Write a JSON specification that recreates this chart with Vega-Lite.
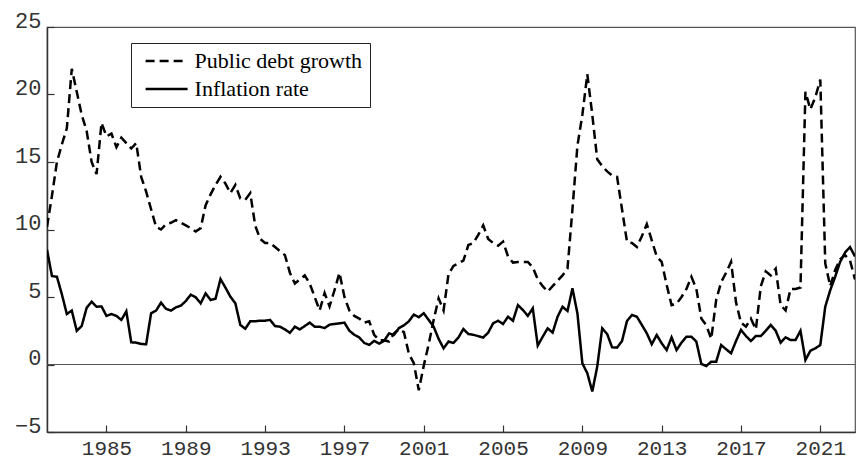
{
  "$schema": "https://vega.github.io/schema/vega-lite/v6.json",
  "width": 808,
  "height": 405,
  "autosize": {"type": "none"},
  "padding": {"left": 47, "top": 27, "right": 1, "bottom": 27},
  "background": "white",
  "config": {
    "view": {"stroke": "#555", "strokeWidth": 1.2},
    "axis": {
      "grid": false,
      "domainColor": "#333",
      "domainWidth": 1.5,
      "tickColor": "#333",
      "tickWidth": 1.2,
      "tickSize": -7,
      "labelFont": "Liberation Mono",
      "labelFontSize": 22,
      "labelColor": "#333",
      "title": null
    },
    "legend": {
      "labelFont": "Liberation Serif",
      "labelFontSize": 22,
      "labelColor": "black",
      "labelLimit": 300
    }
  },
  "data": {
    "values": [
      {"t": 1982.00, "Public debt growth": 10.2, "Inflation rate": 8.5},
      {"t": 1982.25, "Public debt growth": 12.5, "Inflation rate": 6.55},
      {"t": 1982.50, "Public debt growth": 15.0, "Inflation rate": 6.5},
      {"t": 1982.75, "Public debt growth": 16.3, "Inflation rate": 5.2},
      {"t": 1983.00, "Public debt growth": 17.5, "Inflation rate": 3.74},
      {"t": 1983.25, "Public debt growth": 21.9, "Inflation rate": 3.99},
      {"t": 1983.50, "Public debt growth": 20.2, "Inflation rate": 2.5},
      {"t": 1983.75, "Public debt growth": 18.5, "Inflation rate": 2.85},
      {"t": 1984.00, "Public debt growth": 17.3, "Inflation rate": 4.2},
      {"t": 1984.25, "Public debt growth": 15.0, "Inflation rate": 4.65},
      {"t": 1984.50, "Public debt growth": 14.1, "Inflation rate": 4.28},
      {"t": 1984.75, "Public debt growth": 17.9, "Inflation rate": 4.3},
      {"t": 1985.00, "Public debt growth": 16.9, "Inflation rate": 3.6},
      {"t": 1985.25, "Public debt growth": 17.1, "Inflation rate": 3.74},
      {"t": 1985.50, "Public debt growth": 16.1, "Inflation rate": 3.6},
      {"t": 1985.75, "Public debt growth": 16.8, "Inflation rate": 3.3},
      {"t": 1986.00, "Public debt growth": 16.4, "Inflation rate": 3.94},
      {"t": 1986.25, "Public debt growth": 16.0, "Inflation rate": 1.64},
      {"t": 1986.50, "Public debt growth": 16.4, "Inflation rate": 1.62},
      {"t": 1986.75, "Public debt growth": 13.9, "Inflation rate": 1.52},
      {"t": 1987.00, "Public debt growth": 12.8, "Inflation rate": 1.5},
      {"t": 1987.25, "Public debt growth": 11.5, "Inflation rate": 3.79},
      {"t": 1987.50, "Public debt growth": 10.2, "Inflation rate": 3.99},
      {"t": 1987.75, "Public debt growth": 10.0, "Inflation rate": 4.58},
      {"t": 1988.00, "Public debt growth": 10.4, "Inflation rate": 4.13},
      {"t": 1988.25, "Public debt growth": 10.5, "Inflation rate": 3.99},
      {"t": 1988.50, "Public debt growth": 10.7, "Inflation rate": 4.23},
      {"t": 1988.75, "Public debt growth": 10.5, "Inflation rate": 4.36},
      {"t": 1989.00, "Public debt growth": 10.3, "Inflation rate": 4.7},
      {"t": 1989.25, "Public debt growth": 10.1, "Inflation rate": 5.17},
      {"t": 1989.50, "Public debt growth": 9.85, "Inflation rate": 4.98},
      {"t": 1989.75, "Public debt growth": 10.1, "Inflation rate": 4.53},
      {"t": 1990.00, "Public debt growth": 11.8, "Inflation rate": 5.27},
      {"t": 1990.25, "Public debt growth": 12.6, "Inflation rate": 4.78},
      {"t": 1990.50, "Public debt growth": 13.3, "Inflation rate": 4.88},
      {"t": 1990.75, "Public debt growth": 13.9, "Inflation rate": 6.33},
      {"t": 1991.00, "Public debt growth": 13.4, "Inflation rate": 5.69},
      {"t": 1991.25, "Public debt growth": 12.7, "Inflation rate": 5.02},
      {"t": 1991.50, "Public debt growth": 13.3, "Inflation rate": 4.53},
      {"t": 1991.75, "Public debt growth": 12.3, "Inflation rate": 2.93},
      {"t": 1992.00, "Public debt growth": 12.2, "Inflation rate": 2.65},
      {"t": 1992.25, "Public debt growth": 12.7, "Inflation rate": 3.2},
      {"t": 1992.50, "Public debt growth": 10.3, "Inflation rate": 3.2},
      {"t": 1992.75, "Public debt growth": 9.3, "Inflation rate": 3.25},
      {"t": 1993.00, "Public debt growth": 9.0, "Inflation rate": 3.25},
      {"t": 1993.25, "Public debt growth": 9.0, "Inflation rate": 3.3},
      {"t": 1993.50, "Public debt growth": 8.7, "Inflation rate": 2.85},
      {"t": 1993.75, "Public debt growth": 8.4, "Inflation rate": 2.8},
      {"t": 1994.00, "Public debt growth": 8.1, "Inflation rate": 2.6},
      {"t": 1994.25, "Public debt growth": 6.8, "Inflation rate": 2.35},
      {"t": 1994.50, "Public debt growth": 6.0, "Inflation rate": 2.8},
      {"t": 1994.75, "Public debt growth": 6.3, "Inflation rate": 2.6},
      {"t": 1995.00, "Public debt growth": 6.6, "Inflation rate": 2.85},
      {"t": 1995.25, "Public debt growth": 6.0, "Inflation rate": 3.1},
      {"t": 1995.50, "Public debt growth": 5.0, "Inflation rate": 2.8},
      {"t": 1995.75, "Public debt growth": 4.0, "Inflation rate": 2.8},
      {"t": 1996.00, "Public debt growth": 5.3, "Inflation rate": 2.7},
      {"t": 1996.25, "Public debt growth": 4.3, "Inflation rate": 2.95},
      {"t": 1996.50, "Public debt growth": 5.5, "Inflation rate": 3.0},
      {"t": 1996.75, "Public debt growth": 6.8, "Inflation rate": 3.05},
      {"t": 1997.00, "Public debt growth": 5.0, "Inflation rate": 3.1},
      {"t": 1997.25, "Public debt growth": 4.0, "Inflation rate": 2.5},
      {"t": 1997.50, "Public debt growth": 3.6, "Inflation rate": 2.2},
      {"t": 1997.75, "Public debt growth": 3.4, "Inflation rate": 2.0},
      {"t": 1998.00, "Public debt growth": 3.1, "Inflation rate": 1.6},
      {"t": 1998.25, "Public debt growth": 3.2, "Inflation rate": 1.45},
      {"t": 1998.50, "Public debt growth": 2.2, "Inflation rate": 1.75},
      {"t": 1998.75, "Public debt growth": 1.8, "Inflation rate": 1.55},
      {"t": 1999.00, "Public debt growth": 1.8, "Inflation rate": 1.75},
      {"t": 1999.25, "Public debt growth": 1.7, "Inflation rate": 2.3},
      {"t": 1999.50, "Public debt growth": 2.3, "Inflation rate": 2.2},
      {"t": 1999.75, "Public debt growth": 2.6, "Inflation rate": 2.7},
      {"t": 2000.00, "Public debt growth": 2.4, "Inflation rate": 2.9},
      {"t": 2000.25, "Public debt growth": 0.8, "Inflation rate": 3.2},
      {"t": 2000.50, "Public debt growth": 0.1, "Inflation rate": 3.7},
      {"t": 2000.75, "Public debt growth": -1.9, "Inflation rate": 3.5},
      {"t": 2001.00, "Public debt growth": -0.1, "Inflation rate": 3.8},
      {"t": 2001.25, "Public debt growth": 1.5, "Inflation rate": 3.3},
      {"t": 2001.50, "Public debt growth": 3.3, "Inflation rate": 2.8},
      {"t": 2001.75, "Public debt growth": 4.9, "Inflation rate": 1.9},
      {"t": 2002.00, "Public debt growth": 4.0, "Inflation rate": 1.2},
      {"t": 2002.25, "Public debt growth": 6.7, "Inflation rate": 1.7},
      {"t": 2002.50, "Public debt growth": 7.3, "Inflation rate": 1.6},
      {"t": 2002.75, "Public debt growth": 7.5, "Inflation rate": 2.0},
      {"t": 2003.00, "Public debt growth": 7.7, "Inflation rate": 2.63},
      {"t": 2003.25, "Public debt growth": 8.85, "Inflation rate": 2.26},
      {"t": 2003.50, "Public debt growth": 9.0, "Inflation rate": 2.2},
      {"t": 2003.75, "Public debt growth": 9.6, "Inflation rate": 2.1},
      {"t": 2004.00, "Public debt growth": 10.3, "Inflation rate": 2.0},
      {"t": 2004.25, "Public debt growth": 9.3, "Inflation rate": 2.36},
      {"t": 2004.50, "Public debt growth": 9.0, "Inflation rate": 3.05},
      {"t": 2004.75, "Public debt growth": 8.8, "Inflation rate": 3.24},
      {"t": 2005.00, "Public debt growth": 9.1, "Inflation rate": 3.0},
      {"t": 2005.25, "Public debt growth": 8.0, "Inflation rate": 3.54},
      {"t": 2005.50, "Public debt growth": 7.55, "Inflation rate": 3.24},
      {"t": 2005.75, "Public debt growth": 7.6, "Inflation rate": 4.4},
      {"t": 2006.00, "Public debt growth": 7.6, "Inflation rate": 4.04},
      {"t": 2006.25, "Public debt growth": 7.6, "Inflation rate": 3.6},
      {"t": 2006.50, "Public debt growth": 7.2, "Inflation rate": 4.16},
      {"t": 2006.75, "Public debt growth": 6.3, "Inflation rate": 1.4},
      {"t": 2007.00, "Public debt growth": 5.8, "Inflation rate": 2.06},
      {"t": 2007.25, "Public debt growth": 5.4, "Inflation rate": 2.68},
      {"t": 2007.50, "Public debt growth": 5.8, "Inflation rate": 2.36},
      {"t": 2007.75, "Public debt growth": 6.2, "Inflation rate": 3.54},
      {"t": 2008.00, "Public debt growth": 6.6, "Inflation rate": 4.28},
      {"t": 2008.25, "Public debt growth": 7.1, "Inflation rate": 3.96},
      {"t": 2008.50, "Public debt growth": 11.5, "Inflation rate": 5.64},
      {"t": 2008.75, "Public debt growth": 16.2, "Inflation rate": 3.79},
      {"t": 2009.00, "Public debt growth": 18.5, "Inflation rate": 0.09},
      {"t": 2009.25, "Public debt growth": 21.5, "Inflation rate": -0.65},
      {"t": 2009.50, "Public debt growth": 18.5, "Inflation rate": -2.0},
      {"t": 2009.75, "Public debt growth": 15.2, "Inflation rate": -0.16},
      {"t": 2010.00, "Public debt growth": 14.7, "Inflation rate": 2.68},
      {"t": 2010.25, "Public debt growth": 14.3, "Inflation rate": 2.26},
      {"t": 2010.50, "Public debt growth": 14.0, "Inflation rate": 1.27},
      {"t": 2010.75, "Public debt growth": 13.9, "Inflation rate": 1.25},
      {"t": 2011.00, "Public debt growth": 11.5, "Inflation rate": 1.74},
      {"t": 2011.25, "Public debt growth": 9.1, "Inflation rate": 3.22},
      {"t": 2011.50, "Public debt growth": 9.0, "Inflation rate": 3.67},
      {"t": 2011.75, "Public debt growth": 8.7, "Inflation rate": 3.54},
      {"t": 2012.00, "Public debt growth": 9.5, "Inflation rate": 2.93},
      {"t": 2012.25, "Public debt growth": 10.4, "Inflation rate": 2.31},
      {"t": 2012.50, "Public debt growth": 9.2, "Inflation rate": 1.5},
      {"t": 2012.75, "Public debt growth": 8.0, "Inflation rate": 2.19},
      {"t": 2013.00, "Public debt growth": 7.6, "Inflation rate": 1.57},
      {"t": 2013.25, "Public debt growth": 5.9, "Inflation rate": 1.07},
      {"t": 2013.50, "Public debt growth": 4.4, "Inflation rate": 2.01},
      {"t": 2013.75, "Public debt growth": 4.5, "Inflation rate": 1.07},
      {"t": 2014.00, "Public debt growth": 5.0, "Inflation rate": 1.62},
      {"t": 2014.25, "Public debt growth": 5.6, "Inflation rate": 2.06},
      {"t": 2014.50, "Public debt growth": 6.5, "Inflation rate": 2.06},
      {"t": 2014.75, "Public debt growth": 5.6, "Inflation rate": 1.69},
      {"t": 2015.00, "Public debt growth": 3.4, "Inflation rate": 0.04},
      {"t": 2015.25, "Public debt growth": 2.9, "Inflation rate": -0.11},
      {"t": 2015.50, "Public debt growth": 1.9, "Inflation rate": 0.21},
      {"t": 2015.75, "Public debt growth": 4.8, "Inflation rate": 0.21},
      {"t": 2016.00, "Public debt growth": 6.1, "Inflation rate": 1.44},
      {"t": 2016.25, "Public debt growth": 6.8, "Inflation rate": 1.13},
      {"t": 2016.50, "Public debt growth": 7.6, "Inflation rate": 0.83},
      {"t": 2016.75, "Public debt growth": 4.6, "Inflation rate": 1.74},
      {"t": 2017.00, "Public debt growth": 3.1, "Inflation rate": 2.56},
      {"t": 2017.25, "Public debt growth": 2.8, "Inflation rate": 2.11},
      {"t": 2017.50, "Public debt growth": 3.4, "Inflation rate": 1.74},
      {"t": 2017.75, "Public debt growth": 2.6, "Inflation rate": 2.11},
      {"t": 2018.00, "Public debt growth": 5.8, "Inflation rate": 2.11},
      {"t": 2018.25, "Public debt growth": 6.9, "Inflation rate": 2.5},
      {"t": 2018.50, "Public debt growth": 6.6, "Inflation rate": 2.93},
      {"t": 2018.75, "Public debt growth": 7.1, "Inflation rate": 2.5},
      {"t": 2019.00, "Public debt growth": 4.4, "Inflation rate": 1.62},
      {"t": 2019.25, "Public debt growth": 4.0, "Inflation rate": 2.01},
      {"t": 2019.50, "Public debt growth": 5.6, "Inflation rate": 1.81},
      {"t": 2019.75, "Public debt growth": 5.6, "Inflation rate": 1.81},
      {"t": 2020.00, "Public debt growth": 5.7, "Inflation rate": 2.5},
      {"t": 2020.25, "Public debt growth": 20.2, "Inflation rate": 0.33},
      {"t": 2020.50, "Public debt growth": 18.9, "Inflation rate": 1.02},
      {"t": 2020.75, "Public debt growth": 19.8, "Inflation rate": 1.2},
      {"t": 2021.00, "Public debt growth": 21.1, "Inflation rate": 1.44},
      {"t": 2021.25, "Public debt growth": 7.5, "Inflation rate": 4.28},
      {"t": 2021.50, "Public debt growth": 5.8, "Inflation rate": 5.5},
      {"t": 2021.75, "Public debt growth": 7.0, "Inflation rate": 6.5},
      {"t": 2022.00, "Public debt growth": 7.8, "Inflation rate": 7.6},
      {"t": 2022.25, "Public debt growth": 8.1, "Inflation rate": 8.3},
      {"t": 2022.50, "Public debt growth": 7.7, "Inflation rate": 8.7},
      {"t": 2022.75, "Public debt growth": 6.3, "Inflation rate": 8.0}
    ]
  },
  "layer": [
    {
      "data": {"values": [{}]},
      "mark": {"type": "rule", "color": "#555", "strokeWidth": 1.2},
      "encoding": {
        "y": {"datum": 0, "type": "quantitative", "scale": {"domain": [-5, 25]}}
      }
    },
    {
      "transform": [
        {"fold": ["Public debt growth", "Inflation rate"], "as": ["series", "value"]}
      ],
      "mark": {"type": "line", "color": "black", "strokeWidth": 2.5, "clip": true},
      "encoding": {
        "x": {
          "field": "t",
          "type": "quantitative",
          "scale": {"domain": [1982, 2022.75], "nice": false, "zero": false},
          "axis": {
            "values": [1985, 1989, 1993, 1997, 2001, 2005, 2009, 2013, 2017, 2021],
            "format": "d",
            "labelFontSize": 21,
            "labelPadding": 12,
            "labelBaseline": "top"
          }
        },
        "y": {
          "field": "value",
          "type": "quantitative",
          "scale": {"domain": [-5, 25], "nice": false, "zero": false},
          "axis": {
            "values": [-5, 0, 5, 10, 15, 20, 25],
            "labelPadding": 13,
            "labelBaseline": "alphabetic",
            "labelAlign": "right"
          }
        },
        "strokeDash": {
          "field": "series",
          "type": "nominal",
          "scale": {
            "domain": ["Public debt growth", "Inflation rate"],
            "range": [[9, 5], [1, 0]]
          },
          "legend": {
            "title": null,
            "orient": "none",
            "legendX": 84,
            "legendY": 16,
            "direction": "vertical",
            "strokeColor": "#222",
            "fillColor": "white",
            "padding": 7,
            "symbolType": "M-2.5,0H2.5",
            "symbolSize": 282,
            "symbolOffset": 17.6,
            "symbolStrokeWidth": 2.5,
            "symbolStrokeColor": "black",
            "symbolFillColor": "transparent",
            "labelOffset": 17,
            "rowPadding": 6
          }
        }
      }
    }
  ]
}
